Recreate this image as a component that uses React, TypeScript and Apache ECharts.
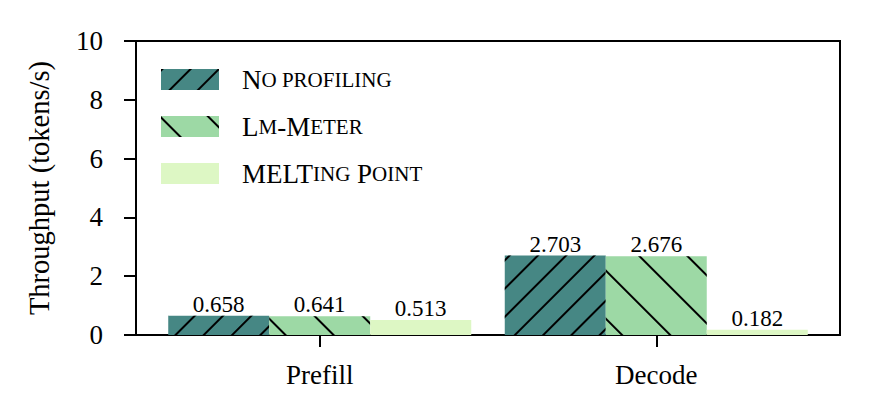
import React, { useEffect, useRef } from 'react';
import * as echarts from 'echarts';

const categories = ['Prefill', 'Decode'];
const seriesNames = ['No profiling', 'Lm-Meter', 'MELTing Point'];
const noProfiling = [0.658, 2.703];
const lmMeter = [0.641, 2.676];
const meltingPoint = [0.513, 0.182];
const yMax = 10;
const yInterval = 2;
const colors = ['#468784', '#9dd9a5', '#ddf7c4'];

const FONT = 'Liberation Serif';

const legendRich: Record<string, string> = {
  'No profiling': '{a|N}{b|O PROFILING}',
  'Lm-Meter': '{a|L}{b|M}{a|-M}{b|ETER}',
  'MELTing Point': '{a|MELT}{b|ING}{a| P}{b|OINT}',
};

export default function App() {
  const ref = useRef<HTMLDivElement>(null);
  useEffect(() => {
    if (!ref.current) return;
    const chart = echarts.init(ref.current, undefined, { renderer: 'svg' });
    const values = [noProfiling, lmMeter, meltingPoint];
    const decals: any[] = [
      { symbol: 'rect', symbolSize: 1, color: '#000', dashArrayX: [1, 0], dashArrayY: [2, 18], rotation: -Math.PI / 4 },
      { symbol: 'rect', symbolSize: 1, color: '#000', dashArrayX: [1, 0], dashArrayY: [2, 32], rotation: Math.PI / 4 },
      null,
    ];
    const series = seriesNames.map((name, i) => ({
      type: 'bar',
      name,
      data: values[i].map((v, j) => [j, v]),
      barWidth: 101,
      barGap: '0%',
      itemStyle: decals[i] ? { color: colors[i], decal: decals[i] } : { color: colors[i] },
      label: {
        show: true,
        position: 'top',
        distance: 0,
        fontFamily: FONT,
        fontSize: 23,
        color: '#000',
        formatter: (p: any) => Number(p.value[1]).toFixed(3),
      },
    }));
    chart.setOption({
      animation: false,
      grid: { left: 136, right: 30, top: 41, bottom: 85, show: true, borderColor: '#000', borderWidth: 2 },
      legend: {
        data: seriesNames,
        orient: 'vertical',
        left: 161,
        top: 66,
        padding: 0,
        itemWidth: 58,
        itemHeight: 21,
        itemGap: 20,
        icon: 'rect',
        formatter: (n: string) => legendRich[n] || n,
        textStyle: {
          padding: [0, 0, 0, 18],
          rich: {
            a: { fontFamily: FONT, fontSize: 27, color: '#000' },
            b: { fontFamily: FONT, fontSize: 21, color: '#000' },
          },
        },
      },
      xAxis: {
        type: 'value',
        min: -0.546,
        max: 1.546,
        splitLine: { show: false },
        axisLine: { show: true, onZero: false, lineStyle: { color: '#000', width: 2 } },
        axisTick: { show: true, customValues: [0, 1], length: 12, lineStyle: { color: '#000', width: 2 } },
        axisLabel: {
          customValues: [0, 1],
          formatter: (v: number) => categories[Math.round(v)] ?? '',
          fontFamily: FONT,
          fontSize: 27,
          color: '#000',
          margin: 26,
        },
      },
      yAxis: {
        type: 'value',
        min: 0,
        max: yMax,
        interval: yInterval,
        name: 'Throughput (tokens/s)',
        nameLocation: 'middle',
        nameGap: 82,
        nameTextStyle: { fontFamily: FONT, fontSize: 28.5, color: '#000' },
        splitLine: { show: false },
        axisLine: { show: true, onZero: false, lineStyle: { color: '#000', width: 2 } },
        axisTick: { show: true, length: 12, lineStyle: { color: '#000', width: 2 } },
        axisLabel: { fontFamily: FONT, fontSize: 27, color: '#000', margin: 33 },
      },
      series,
    });
    return () => chart.dispose();
  }, []);
  return <div ref={ref} style={{ position: 'absolute', left: 0, top: 0, width: 870, height: 420 }} />;
}
